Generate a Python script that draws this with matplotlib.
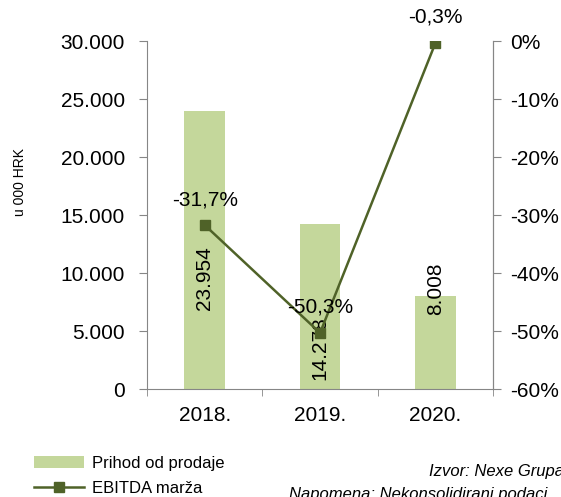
import matplotlib.pyplot as plt
from matplotlib.ticker import FuncFormatter, FixedLocator
from matplotlib.patches import Patch
from matplotlib.lines import Line2D

plt.rcParams['font.family'] = ['Liberation Sans', 'DejaVu Sans']

years = ['2018.', '2019.', '2020.']
prihod = [23954, 14278, 8008]
prihod_labels = ['23.954', '14.278', '8.008']
# where the rotated value labels sit (data units, left axis)
prihod_label_y = [9600, 3500, 8700]
ebitda = [-31.7, -50.3, -0.3]
ebitda_labels = ['-31,7%', '-50,3%', '-0,3%']

bar_color = '#c4d79b'
line_color = '#4f6228'
axis_color = '#868686'

fig = plt.figure(figsize=(5.61, 4.97), dpi=100)
ax = fig.add_axes([0.262, 0.217, 0.617, 0.700])
x = range(len(years))

ax.bar(x, prihod, width=0.35, color=bar_color, zorder=1)
ax.set_xlim(-0.5, 2.5)
ax.set_ylim(0, 30000)
ax.set_yticks(range(0, 30001, 5000))
ax.yaxis.set_major_formatter(FuncFormatter(lambda v, p: f'{int(v):,}'.replace(',', '.')))
ax.set_xticks(list(x))
ax.set_xticklabels(years)
ax.xaxis.set_minor_locator(FixedLocator([-0.5, 0.5, 1.5, 2.5]))
ax.tick_params(axis='x', which='major', length=0, pad=12, labelsize=15)
ax.tick_params(axis='x', which='minor', length=5, color=axis_color, direction='out')
ax.tick_params(axis='y', length=6, color=axis_color, pad=10, labelsize=15)
ax.spines['top'].set_visible(False)
for s in ['left', 'bottom', 'right']:
    ax.spines[s].set_color(axis_color)

for i, (lab, ly) in enumerate(zip(prihod_labels, prihod_label_y)):
    ax.text(i, ly, lab, rotation=90, ha='center', va='center', fontsize=15, zorder=5)

ax2 = ax.twinx()
ax2.plot(list(x), ebitda, color=line_color, lw=1.8, marker='s', markersize=6.5, zorder=3)
ax2.set_ylim(-60, 0)
ax2.set_yticks(range(-60, 1, 10))
ax2.yaxis.set_major_formatter(FuncFormatter(lambda v, p: f'{int(v)}%'))
ax2.tick_params(axis='y', length=6, color=axis_color, pad=6, labelsize=15)
for s in ['top', 'left', 'bottom']:
    ax2.spines[s].set_visible(False)
ax2.spines['right'].set_color(axis_color)
for i, (v, lab) in enumerate(zip(ebitda, ebitda_labels)):
    ax2.text(i, v + 4.4, lab, ha='center', va='center', fontsize=15)

ax2.set_zorder(ax.get_zorder() + 1)
ax2.patch.set_visible(False)

fig.text(0.036, 0.634, 'u 000 HRK', rotation=90, ha='center', va='center', fontsize=10)

handles = [Patch(facecolor=bar_color, edgecolor='none'),
           Line2D([0], [0], color=line_color, lw=1.8, marker='s', markersize=6.5)]
fig.legend(handles, ['Prihod od prodaje', 'EBITDA marža'], loc='upper left',
           bbox_to_anchor=(0.045, 0.100), frameon=False, fontsize=12,
           handlelength=3.0, handletextpad=0.5, labelspacing=0.62, borderpad=0)

fig.text(0.765, 0.052, 'Izvor: Nexe Grupa', style='italic', fontsize=12, va='center')
fig.text(0.515, 0.005, 'Napomena: Nekonsolidirani podaci', style='italic', fontsize=12, va='center')

fig.savefig('out.png', dpi=100)
